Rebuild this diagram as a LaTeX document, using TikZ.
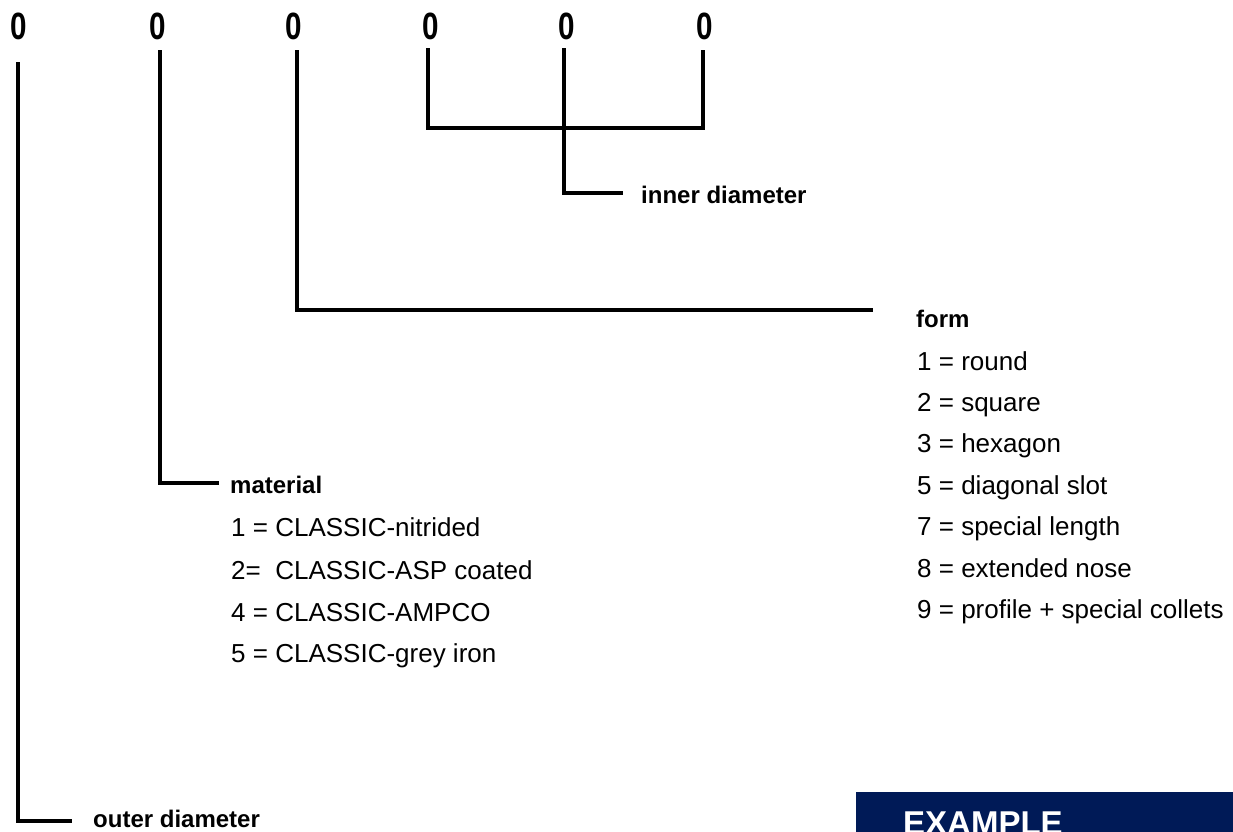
\documentclass[tikz,border=0pt]{standalone}
\usepackage{fontspec}
\setmainfont{Liberation Sans}
\definecolor{navy}{HTML}{001A57}
\begin{document}
\begin{tikzpicture}[x=1pt,y=-1pt,
  link/.style={line width=3.4pt,line join=miter,black},
  digit/.style={anchor=base,inner sep=0pt,font=\fontsize{38}{38}\selectfont\bfseries,xscale=0.78},
  lab/.style={anchor=base west,inner sep=0pt,font=\fontsize{24}{24}\selectfont\bfseries},
  item/.style={anchor=base west,inner sep=0pt,font=\fontsize{26}{26}\selectfont}]
\useasboundingbox (0,0) rectangle (1233,831);
% digits
\node[digit] (d1) at (19,39) {0};
\node[digit] (d2) at (158,39) {0};
\node[digit] (d3) at (294,39) {0};
\node[digit] (d4) at (431,39) {0};
\node[digit] (d5) at (567,39) {0};
\node[digit] (d6) at (705,39) {0};
% connector coordinates
\coordinate (s1) at (18,62);    \coordinate (e1) at (72,821);
\coordinate (s2) at (160,50);   \coordinate (e2) at (219,483);
\coordinate (s3) at (297,50);   \coordinate (e3) at (873,310);
\coordinate (s4) at (428,48);   \coordinate (s6) at (703,50);
\coordinate (b4) at (428,128);  \coordinate (b6) at (703,128);
\coordinate (s5) at (564,48);   \coordinate (e5) at (623,193);
\draw[link] (s1) |- (e1);
\draw[link] (s2) |- (e2);
\draw[link] (s3) |- (e3);
\draw[link] (s4) -- (b4) -- (b6) -- (s6);
\draw[link] (s5) |- (e5);
% labels
\node[lab] (outer) at (93,827) {outer diameter};
\node[lab] (inner) at (641,203) {inner diameter};
\node[lab] (material) at (230,493) {material};
\node[lab] (form) at (916,327) {form};
% material list
\node[item] (m1) at (231,536) {1 = CLASSIC-nitrided};
\node[item] (m2) at (231,579) {2=\ \ CLASSIC-ASP coated};
\node[item] (m3) at (231,621) {4 = CLASSIC-AMPCO};
\node[item] (m4) at (231,662) {5 = CLASSIC-grey iron};
% form list
\node[item] (f1) at (917,370) {1 = round};
\node[item] (f2) at (917,411) {2 = square};
\node[item] (f3) at (917,452) {3 = hexagon};
\node[item] (f4) at (917,494) {5 = diagonal slot};
\node[item] (f5) at (917,535) {7 = special length};
\node[item] (f6) at (917,577) {8 = extended nose};
\node[item] (f7) at (917,618) {9 = profile + special collets};
% example banner
\fill[navy] (856,792) rectangle (1240,840);
\node[anchor=base west,inner sep=0pt,text=white,font=\fontsize{33}{33}\selectfont\bfseries] (ex) at (903,834) {EXAMPLE};
\end{tikzpicture}
\end{document}
